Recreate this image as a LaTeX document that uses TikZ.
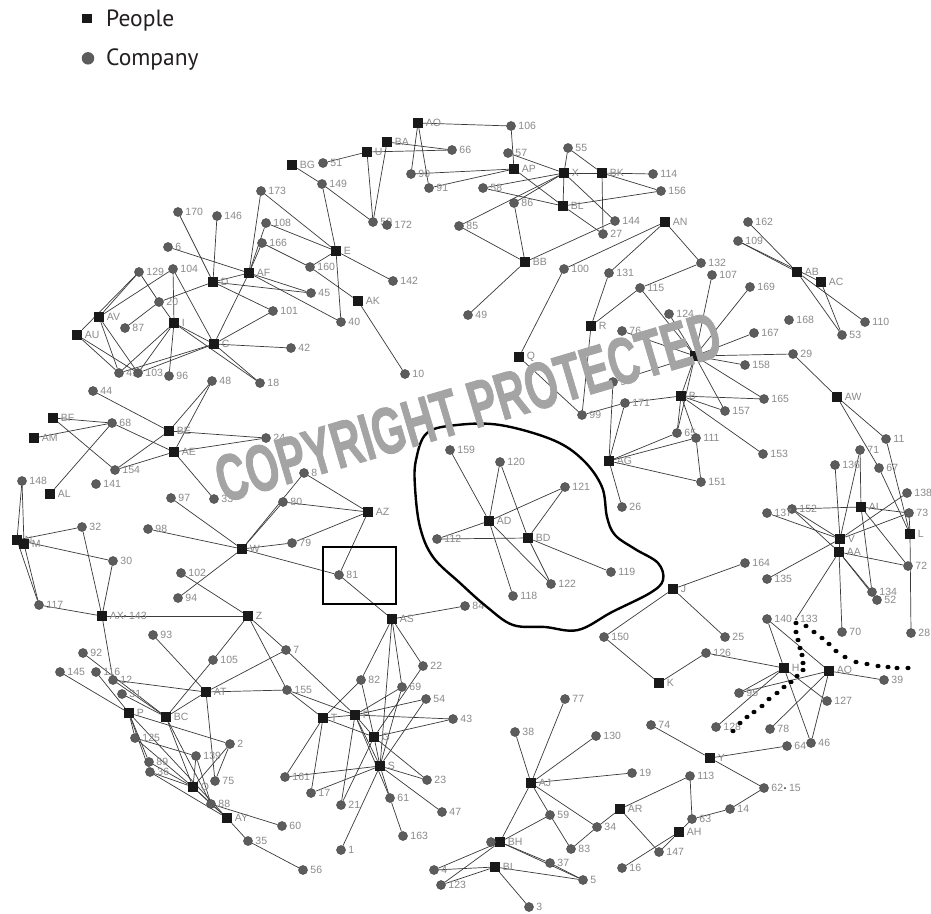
\documentclass[tikz,border=0pt]{standalone}
\usepackage{fontspec}
\usepackage{graphicx}
\newfontfamily\lblfamily{Liberation Sans}
\newfontfamily\legfamily{PT Sans}
\newfontfamily\wmfamily{Liberation Sans}[BoldFeatures={FakeBold=1.5}]
\newcommand\lblf{\lblfamily\fontsize{10.5}{12}\selectfont}
\newcommand\legf{\legfamily\fontsize{23.5}{26}\selectfont}
\newcommand\wmf{\wmfamily\bfseries\fontsize{66}{68}\selectfont}
\definecolor{lblgray}{HTML}{8A8A8A}
\definecolor{nodegray}{HTML}{5C5C5C}
\definecolor{edgec}{HTML}{3A3A3A}
\definecolor{wm}{HTML}{A4A4A4}
\definecolor{legtext}{HTML}{231F20}
\pgfdeclarelayer{bg}
\pgfsetlayers{bg,main}
\newcommand\mkP[2]{\node[per,label={[lbl]0:#1}] (p#1) at (#2) {};}
\newcommand\mkC[2]{\node[com,label={[lbl]0:#1}] (c#1) at (#2) {};}
\newcommand\mkT[2]{\node[tinyc,label={[lbl]0:#1}] (c#1) at (#2) {};}
\begin{document}
\begin{tikzpicture}[x=1pt,y=-1pt,
  per/.style={rectangle,fill=black!90,minimum size=10pt,inner sep=0pt},
  com/.style={circle,fill=nodegray,draw=black!70,line width=0.5pt,minimum size=9pt,inner sep=0pt},
  tinyc/.style={circle,fill=nodegray,minimum size=2.5pt,inner sep=0pt},
  lbl/.style={text=lblgray,font=\lblf,inner sep=0pt,label distance=2.5pt},
  edge/.style={draw=edgec,line width=0.7pt},
  dotm/.style={fill=black},
  legtxt/.style={anchor=base west,font=\legf,text=legtext,inner sep=0pt}]
\begin{pgfonlayer}{bg}
\fill[white] (0,0) rectangle (931,913);
\end{pgfonlayer}
\useasboundingbox (0,0) rectangle (931,913);

% legend
\node[rectangle,fill=black!90,minimum size=9.5pt,inner sep=0pt] (legP) at (87,18.5) {};
\node[legtxt] (legPt) at (106,26.7) {People};
\node[circle,fill=nodegray,minimum size=12.5pt,inner sep=0pt] (legC) at (88,58.3) {};
\node[legtxt] (legCt) at (106,65) {Company};

% people
\mkP{AO}{418,123}\mkP{BA}{387,142}\mkP{U}{367,152}\mkP{BG}{292,165}
\mkP{AP}{514,169}\mkP{X}{564,173}\mkP{BK}{602,173}\mkP{BL}{563,206}
\mkP{E}{336,251}\mkP{AK}{358,301}\mkP{BB}{525,262}\mkP{AN}{665,222}
\mkP{AB}{797,272}\mkP{AC}{821,282}\mkP{AF}{249,273}\mkP{D}{213,282}
\mkP{AV}{99,317}\mkP{AU}{77,335}\mkP{I}{174,323}\mkP{C}{214,344}
\mkP{R}{591,326}\mkP{Q}{519,357}\mkP{A}{695,356}\mkP{B}{681,396}
\mkP{AG}{609,461}\mkP{AW}{837,397}\mkP{AI}{861,507}\mkP{L}{910,534}
\mkP{V}{840,539}\mkP{AA}{839,552}\mkP{BF}{53,418}\mkP{AM}{34,438}
\mkP{BE}{169,431}\mkP{AE}{174,452}\mkP{AL}{50,494}\mkP{AZ}{368,512}
\mkP{AD}{489,521}\mkP{BD}{528,538}\mkP{W}{242,549}\mkP{N}{17,540}
\mkP{M}{24,544}\mkP{Z}{248,616}\mkP{AX}{102,616}\mkP{AT}{206,692}
\mkP{P}{129,713}\mkP{BC}{166,717}\mkP{O}{193,787}\mkP{AY}{227,818}
\mkP{T}{323,718}\mkP{F}{355,715}\mkP{G}{374,737}\mkP{S}{380,766}
\mkP{AS}{392,619}\mkP{J}{673,589}\mkP{K}{659,683}\mkP{H}{784,668}
\mkP{AQ}{829,671}\mkP{Y}{710,758}\mkP{AJ}{531,783}\mkP{AR}{620,809}
\mkP{AH}{679,832}\mkP{BH}{500,842}\mkP{BI}{495,867}

% companies
\mkC{106}{511,126}\mkC{66}{452,150}\mkC{51}{323,163}\mkC{57}{508,153}
\mkC{55}{568,148}\mkC{90}{411,174}\mkC{91}{429,188}\mkC{58}{483,188}
\mkC{86}{514,203}\mkC{114}{653,174}\mkC{156}{661,191}\mkC{149}{322,184}
\mkC{50}{373,222}\mkC{172}{387,225}\mkC{85}{459,226}\mkC{144}{615,221}
\mkC{27}{603,234}\mkC{142}{393,281}\mkC{100}{564,269}\mkC{131}{609,273}
\mkC{49}{468,315}\mkC{162}{748,222}\mkC{109}{738,241}\mkC{132}{701,263}
\mkC{107}{712,275}\mkC{115}{640,288}\mkC{169}{750,287}\mkC{124}{669,314}
\mkC{168}{789,320}\mkC{110}{865,322}\mkC{53}{842,335}\mkC{167}{754,333}
\mkC{76}{622,331}\mkC{29}{793,354}\mkC{158}{745,365}\mkC{173}{261,191}
\mkC{170}{178,212}\mkC{146}{217,216}\mkC{108}{266,223}\mkC{166}{262,243}
\mkC{6}{168,247}\mkC{129}{139,272}\mkC{104}{173,269}\mkC{20}{159,302}
\mkC{101}{273,311}\mkC{160}{310,267}\mkC{45}{311,293}\mkC{40}{341,322}
\mkC{10}{405,374}\mkC{87}{125,328}\mkC{41}{119,373}\mkC{103}{138,373}
\mkC{96}{169,376}\mkC{42}{291,348}\mkC{18}{260,383}\mkC{48}{212,381}
\mkC{44}{93,391}\mkC{68}{112,423}\mkC{24}{266,438}\mkC{154}{115,470}
\mkC{141}{96,484}\mkC{148}{22,481}\mkC{97}{171,498}\mkC{33}{214,499}
\mkC{8}{304,473}\mkC{80}{283,502}\mkC{32}{82,527}\mkC{98}{148,529}
\mkC{30}{113,561}\mkC{79}{292,543}\mkC{102}{181,573}\mkC{94}{178,598}
\mkC{117}{39,605}\mkT{143}{125,616}\mkC{93}{153,635}\mkC{7}{286,650}
\mkC{105}{213,660}\mkC{92}{83,653}\mkC{145}{60,672}\mkC{116}{96,672}
\mkC{12}{113,680}\mkC{155}{287,690}\mkC{31}{122,694}\mkC{125}{135,738}
\mkC{2}{230,744}\mkC{139}{196,756}\mkC{89}{149,762}\mkC{36}{150,772}
\mkC{75}{215,781}\mkC{88}{211,804}\mkC{60}{282,826}\mkC{35}{248,841}
\mkC{56}{303,870}\mkC{161}{285,777}\mkC{17}{311,793}\mkC{21}{341,805}
\mkC{1}{341,850}\mkC{82}{361,680}\mkC{22}{423,666}\mkC{69}{402,687}
\mkC{54}{426,699}\mkC{43}{453,719}\mkC{23}{427,780}\mkC{61}{390,798}
\mkC{47}{442,812}\mkC{163}{403,836}\mkC{84}{465,606}\mkC{81}{339,575}
\mkC{159}{450,450}\mkC{120}{500,462}\mkC{121}{565,487}\mkC{112}{437,539}
\mkC{119}{611,572}\mkC{122}{551,584}\mkC{118}{513,596}\mkC{9}{613,382}
\mkC{171}{625,403}\mkC{99}{582,415}\mkC{26}{622,507}\mkC{165}{764,399}
\mkC{157}{725,411}\mkC{65}{677,433}\mkC{111}{696,438}\mkC{153}{763,454}
\mkC{151}{701,482}\mkC{11}{886,439}\mkC{71}{860,450}\mkC{136}{835,465}
\mkC{67}{879,468}\mkC{138}{907,493}\mkC{152}{792,509}\mkC{137}{767,513}
\mkC{73}{909,513}\mkC{72}{908,566}\mkC{164}{745,563}\mkC{135}{767,579}
\mkC{134}{872,592}\mkC{52}{877,600}\mkC{140}{767,619}\mkT{133}{796,619}
\mkC{70}{842,632}\mkC{28}{911,633}\mkC{25}{725,637}\mkC{150}{604,637}
\mkC{126}{706,653}\mkC{39}{884,680}\mkC{95}{739,693}\mkC{127}{827,701}
\mkC{128}{716,727}\mkC{78}{770,729}\mkC{64}{787,746}\mkC{46}{811,743}
\mkC{74}{651,725}\mkC{77}{565,699}\mkC{38}{515,732}\mkC{130}{596,736}
\mkC{19}{632,773}\mkC{113}{690,776}\mkC{62}{764,788}\mkT{15}{785,788}
\mkC{59}{550,815}\mkC{34}{597,827}\mkC{14}{730,809}\mkC{63}{692,819}
\mkC{147}{659,852}\mkC{83}{571,849}\mkC{37}{550,863}\mkC{16}{622,868}
\mkC{4}{434,870}\mkC{5}{583,880}\mkC{123}{441,885}\mkC{3}{529,907}
\node[com] (c0) at (491,842) {};

\begin{pgfonlayer}{bg}
\foreach \a/\b in {pBG/c149,pU/c51,pU/c66,pU/c50,pBA/c50,pBA/c66,pAO/c106,pAO/c90,pAO/c91,
 c90/pAP,c91/pAP,c106/pAP,c57/pX,pAP/pBL,c58/pX,c58/pBL,c86/pX,c86/pBB,c85/pX,c85/pBB,
 pX/c55,pX/pBK,pX/pBL,pX/c144,c55/pBK,pBK/c114,pBK/c156,pBK/c27,pBL/c156,pBL/c27,
 pBB/c144,pBB/c49,pAN/c100,pAN/c131,pAN/c132,c149/c50,c149/pE,c173/pE,c108/pE,pE/c142,
 pE/c40,c160/pE,c166/c160,c160/pAK,pAK/c10,
 c173/pAF,c108/pAF,c166/pAF,c6/pAF,pD/pAF,pD/c170,pD/c146,pD/c20,pD/c45,pD/c101,
 pAF/c45,pAF/c40,c104/pC,c104/pI,pC/pAF,c129/pAV,c129/pAU,c129/c20,pAV/c104,pI/c20,
 c87/c20,pAV/c41,pAV/c103,pAU/c41,pAU/c103,pI/c41,pI/c103,pI/c96,pI/pC,pC/c41,pC/c103,
 pC/c101,pC/c42,pC/c18,pI/c18,
 c44/pBE,c68/pAE,pBF/c68,pBF/c154,pAM/c68,pAL/c68,c48/pBE,c48/pAE,pBE/c24,pAE/c24,
 c154/pBE,c154/pAE,pAE/c33,c148/pN,c148/pM,c8/pW,c80/pW,c80/pAZ,c8/pAZ,c79/pAZ,
 c97/pW,c98/pW,pW/c79,pW/c81,c94/pW,c102/pZ,pAX/pZ,pAX/c32,pAX/c30,c117/pAX,pAX/c12,
 pN/c117,pM/c117,pN/c32,pN/c30,pZ/c105,pZ/c7,pZ/c155,c105/pBC,c93/pAT,c7/pAT,
 pAT/c155,pAT/pBC,pAT/c75,c12/pAT,c145/pP,c92/pBC,c116/pP,c31/pBC,c12/pBC,
 pP/c2,pP/c125,pP/c89,pP/c36,pP/pAY,c125/pO,c125/c139,pBC/pO,pBC/c88,c89/pO,c36/pO,
 c36/pAY,c139/pO,c139/c88,c2/c75,c2/pO,pO/c88,pO/pAY,c88/pAY,c88/c60,pAY/c35,c35/c56,
 c84/pAS,c81/pAS,pAZ/c81,pAS/c82,pAS/pS,pAS/c22,pAS/c69,c7/pF,c155/pT,c155/pF,
 c82/pT,c82/pG,c69/pF,c69/pS,c22/pG,c54/pF,c54/pS,c43/pF,c43/pG,pT/pF,pT/pG,
 pT/c161,pT/c17,pF/pG,pF/pS,pF/c21,pF/c61,pG/pS,pG/c23,pG/c21,pS/c161,pS/c17,
 pS/c1,pS/c61,pS/c47,pS/c23,c61/c163,
 pAD/c159,pAD/c120,pAD/c112,pAD/c121,pAD/c118,pAD/c122,pBD/c120,pBD/c121,pBD/c112,
 pBD/c119,pBD/c122,
 pQ/c100,pQ/c99,pR/c99,pR/c115,pR/c131,c132/c115,c115/pA,c107/pA,c169/pA,c124/pA,
 c167/pA,c29/pA,c158/pA,c76/pA,c9/pA,c171/pB,c9/pAG,c171/pAG,c99/c171,pAG/c26,
 pAG/c151,pAG/c65,pAG/c111,pA/pB,pA/c165,pA/c157,pA/c65,pB/c165,pB/c157,pB/c153,
 pB/c65,pB/c111,c111/c151,c162/pAB,c109/pAB,pAB/c110,pAB/c53,pAC/c53,c109/pAC,
 c29/pAW,pAW/c11,pAW/c67,c11/pL,c67/pL,c71/pAI,c71/pV,c136/pV,c138/pV,c73/pV,
 pAI/c73,pAI/c72,pAI/c134,pAI/c152,c152/pV,c152/pAA,c137/pV,pV/c135,pV/pAA,
 pAA/c133,pAA/c70,pAA/c134,pAA/c52,pAA/c72,pL/c28,pL/c73,pJ/c164,pJ/c150,pJ/c25,
 c150/pK,pK/c126,pH/c126,pH/c140,pH/c95,pH/c128,pH/c127,pH/c46,pAQ/c140,pAQ/c39,
 pAQ/c95,pAQ/c78,pAQ/c46,pY/c74,pY/c64,pY/c62,c113/pAR,c113/c63,c63/c14,c14/c62,
 pAR/c147,c34/pAR,pAH/c147,c16/pAH,pAH/c63,pAJ/c38,pAJ/c77,pAJ/c130,pAJ/c19,
 pAJ/c59,pAJ/c34,pAJ/pBH,c59/pBH,c59/c83,c34/c83,pBH/c37,pBH/c5,pBH/c4,pBH/c123,
 pBI/c4,pBI/c123,pBI/c5,pBI/c3,c37/c5}
 \draw[edge] (\a) -- (\b);
\end{pgfonlayer}

% highlight shapes
\draw[line width=2pt] (322.7,547) rectangle (396,604);
\draw[line width=2.4pt] plot[smooth cycle,tension=0.6] coordinates {
 (457,425) (500,425) (553,440) (583,460) (602,487) (607,517) (615,535) (635,549)
 (658,563) (663,580) (650,593) (612,612) (578,630) (545,627) (513,625) (487,607)
 (460,583) (433,557) (420,527) (415,487) (416,460) (427,433)};

% dotted paths
\foreach \p in {(796,623),(806,626),(814,632),(822,638),(829,644),(836,651),(845,657),
 (856,662),(867,664),(878,666),(888,667),(897,668),(908,668),
 (796,632),(798,640),(800,648),(802,655),(803,663),(803,670),(797,676),(791,682),
 (784,687),(777,693),(769,699),(762,706),(754,712),(747,717),(740,723),(733,731)}
 \fill[dotm] \p ellipse (2.6 and 2.2);

% watermark
\node[rotate=16.5,text=wm,font=\wmf,inner sep=0pt] (wmark) at (468,407)
 {\scalebox{0.64}[1]{COPYRIGHT PROTECTED}};
\end{tikzpicture}
\end{document}
